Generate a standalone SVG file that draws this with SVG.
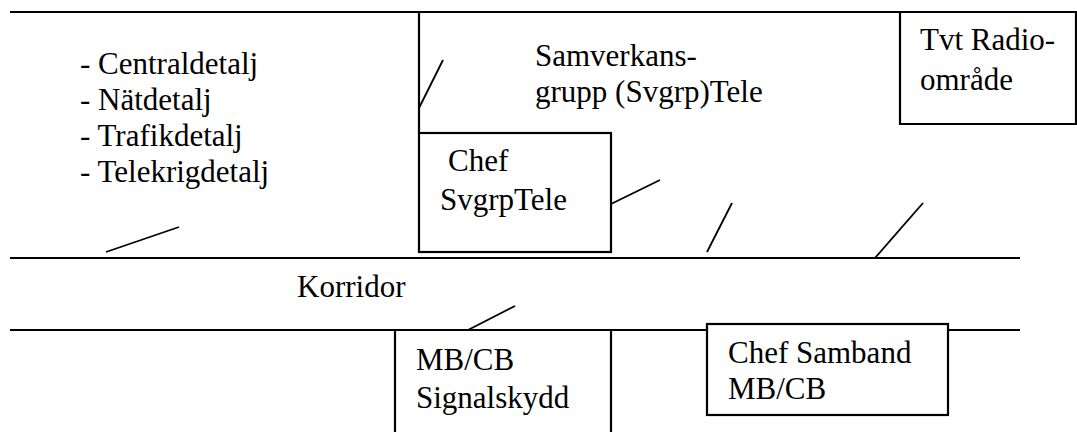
<svg xmlns="http://www.w3.org/2000/svg" width="1077" height="432" viewBox="0 0 1077 432">
  <style>
    .wall { stroke: #000; stroke-width: 2.2; fill: none; stroke-linecap: butt; }
    .room { stroke: #000; stroke-width: 2.2; fill: #fff; }
    .door { stroke: #000; stroke-width: 1.8; fill: none; }
    .lbl { font-family: "Liberation Serif", "Times New Roman", serif; font-size: 31px; fill: #000; }
  </style>
  <rect width="1077" height="432" fill="#fff"/>

  <!-- outer walls and corridor -->
  <g id="walls">
    <line class="wall" x1="10" y1="12" x2="1077" y2="12"/>
    <line class="wall" x1="10" y1="258" x2="1020" y2="258"/>
    <line class="wall" x1="10" y1="330" x2="1020" y2="330"/>
    <line class="wall" x1="419" y1="12" x2="419" y2="133"/>
  </g>

  <!-- left office -->
  <g id="detaljer">
    <text class="lbl" x="80" y="74">- Centraldetalj</text>
    <text class="lbl" x="80" y="110">- Nätdetalj</text>
    <text class="lbl" x="80" y="146">- Trafikdetalj</text>
    <text class="lbl" x="80" y="182">- Telekrigdetalj</text>
  </g>

  <!-- group room -->
  <g id="samverkansgrupp">
    <text class="lbl" x="535" y="66">Samverkans-</text>
    <text class="lbl" x="535" y="102">grupp (Svgrp)Tele</text>
  </g>

  <g id="tvt-radio">
    <polyline class="wall" points="900,12 900,124 1076,124 1076,12"/>
    <text class="lbl" x="920" y="50">Tvt Radio-</text>
    <text class="lbl" x="920" y="90">område</text>
  </g>

  <g id="chef-svgrp">
    <rect class="room" x="419" y="133" width="192" height="119"/>
    <text class="lbl" x="448" y="171">Chef</text>
    <text class="lbl" x="440" y="210">SvgrpTele</text>
  </g>

  <g id="korridor">
    <text class="lbl" x="297" y="297">Korridor</text>
  </g>

  <g id="signalskydd">
    <line class="wall" x1="395" y1="330" x2="395" y2="432"/>
    <line class="wall" x1="611" y1="330" x2="611" y2="432"/>
    <text class="lbl" x="416" y="370">MB/CB</text>
    <text class="lbl" x="416" y="408">Signalskydd</text>
  </g>

  <g id="chef-samband">
    <rect class="room" x="707" y="324" width="241" height="91"/>
    <text class="lbl" x="728" y="363">Chef Samband</text>
    <text class="lbl" x="728" y="399">MB/CB</text>
  </g>

  <!-- door swings -->
  <g id="doors">
    <line class="door" x1="443" y1="60" x2="419" y2="108"/>
    <line class="door" x1="611" y1="204" x2="660" y2="180"/>
    <line class="door" x1="732" y1="203" x2="707" y2="252"/>
    <line class="door" x1="923" y1="203" x2="875" y2="258"/>
    <line class="door" x1="179" y1="227" x2="106" y2="252"/>
    <line class="door" x1="468" y1="330" x2="515" y2="306"/>
  </g>
</svg>
